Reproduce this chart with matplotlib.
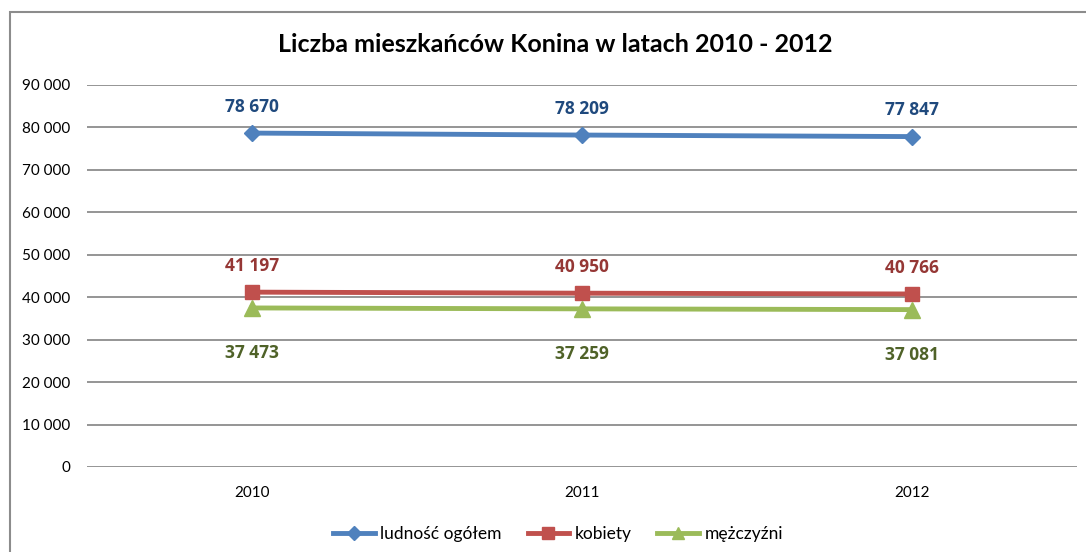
import matplotlib
matplotlib.use("Agg")
import matplotlib.pyplot as plt
from matplotlib.patches import Rectangle
from matplotlib import font_manager

years = ["2010", "2011", "2012"]
ogolem = [78670, 78209, 77847]
kobiety = [41197, 40950, 40766]
mezczyzni = [37473, 37259, 37081]
series_names = ["ludność ogółem", "kobiety", "mężczyźni"]
yticks = list(range(0, 90001, 10000))

plt.rcParams['font.family'] = ['Lato', 'DejaVu Sans']

fig = plt.figure(figsize=(10.86, 5.52), dpi=100)
ax = fig.add_axes([87/1086, 1-467/552, (1077-87)/1086, (467-85)/552])

x = list(range(len(years)))
line_colors = ["#4F81BD", "#C0504D", "#9BBB59"]
label_colors = ["#1F497D", "#953735", "#4F6228"]
markers = ["D", "s", "^"]
msizes = [8, 10, 11]
data = [ogolem, kobiety, mezczyzni]
offsets = [19, 18.5, -32.5]

def fmt(v):
    return f"{v:,}".replace(",", " ")

for vals, lc, tc, m, ms, off, name in zip(data, line_colors, label_colors, markers, msizes, offsets, series_names):
    ax.plot(x, vals, color=lc, linewidth=3.5, marker=m, markersize=ms,
            markerfacecolor=lc, markeredgecolor=lc, label=name, zorder=3)
    for xi, v in zip(x, vals):
        ax.annotate(fmt(v), (xi, v), xytext=(0, off), textcoords="offset points",
                    ha="center", va="center",
                    fontsize=12.5, fontweight="bold", color=tc,
                    family=['Open Sans', 'DejaVu Sans'])

ax.set_xlim(-0.5, 2.5)
ax.set_ylim(0, 90000)
ax.set_yticks(yticks)
ax.set_yticklabels([fmt(v) for v in yticks], fontsize=11, color="#000000")
ax.set_xticks(x)
ax.set_xticklabels(years, fontsize=11)
ax.tick_params(axis="x", length=0, pad=14)
ax.tick_params(axis="y", length=0, pad=12)
ax.grid(axis="y", color="#8C8C8C", linewidth=1.3)
ax.set_axisbelow(True)
for s in ax.spines.values():
    s.set_visible(False)

fig.text(555/1086, 1-45/552, "Liczba mieszkańców Konina w latach 2010 - 2012",
         ha="center", va="center", fontsize=18, fontweight="bold")

leg = fig.legend(loc="center", bbox_to_anchor=(558/1086, 1-534/552), ncol=3, frameon=False,
                 fontsize=12.5, handlelength=2.4, columnspacing=1.5, handletextpad=0.3,
                 markerscale=0.85)

fig.patches.append(Rectangle((10/1086, -0.1), 1.2, 1-12/552+0.1, transform=fig.transFigure,
                             fill=False, edgecolor="#8C8C8C", linewidth=1.5))

fig.savefig("out.png", dpi=100)
